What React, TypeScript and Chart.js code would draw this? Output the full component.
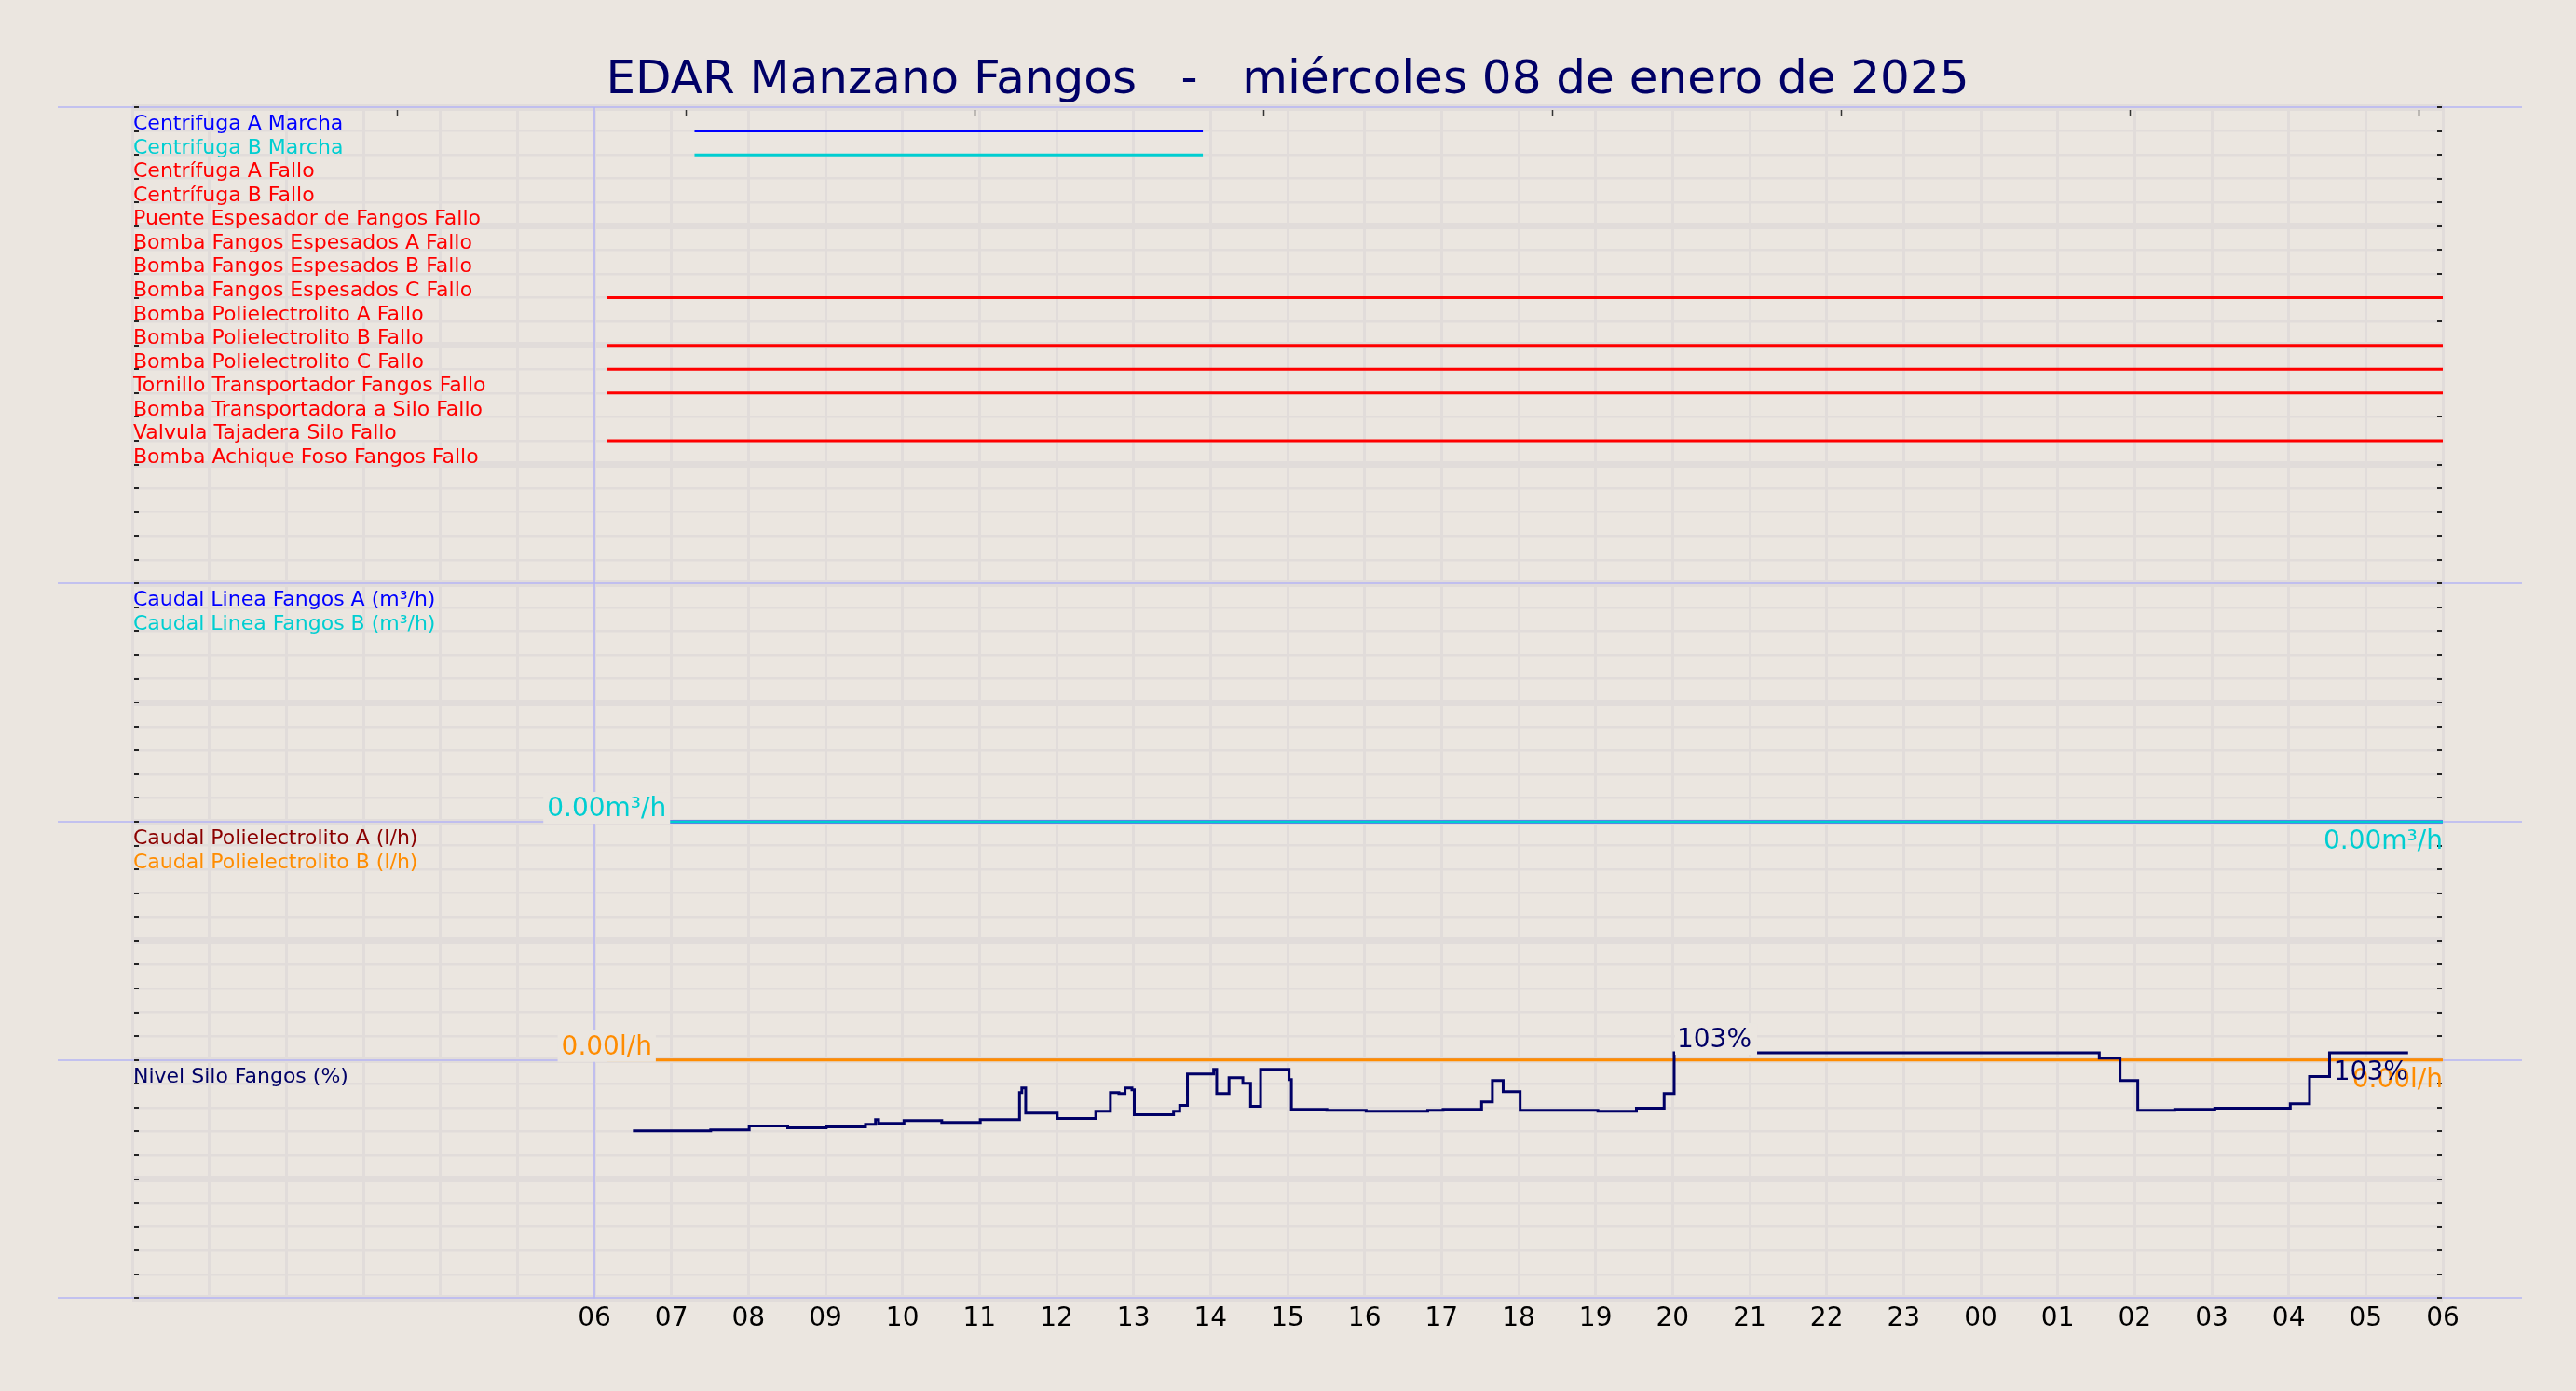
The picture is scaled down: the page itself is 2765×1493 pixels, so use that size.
import React, { useEffect, useRef } from 'react';
import { Chart, registerables } from 'chart.js';

Chart.register(...registerables);

const BG = '#ebe6e0';
const GRID = '#e1dcda';
const LAVENDER = '#b4b4f4';
const NAVY = '#000066';
const FAMILY = 'DejaVu Sans';

const TITLE = 'EDAR Manzano Fangos   -   miércoles 08 de enero de 2025';

// x axis runs in hours from 00:00 of the day to 06:00 of the next one
const hourLabels = ['06', '07', '08', '09', '10', '11', '12', '13', '14', '15', '16', '17', '18',
  '19', '20', '21', '22', '23', '00', '01', '02', '03', '04', '05', '06'];
const dayStartHour = 6;
const topTickHours = [3.44, 7.19, 10.94, 14.69, 18.44, 22.19, 25.94, 29.69];

// digital signals (one row each)
const signalNames = [
  'Centrifuga A Marcha',
  'Centrifuga B Marcha',
  'Centrífuga A Fallo',
  'Centrífuga B Fallo',
  'Puente Espesador de Fangos Fallo',
  'Bomba Fangos Espesados A Fallo',
  'Bomba Fangos Espesados B Fallo',
  'Bomba Fangos Espesados C Fallo',
  'Bomba Polielectrolito A Fallo',
  'Bomba Polielectrolito B Fallo',
  'Bomba Polielectrolito C Fallo',
  'Tornillo Transportador Fangos Fallo',
  'Bomba Transportadora a Silo Fallo',
  'Valvula Tajadera Silo Fallo',
  'Bomba Achique Foso Fangos Fallo',
];
const signalColors = ['#0000ff', '#00ced1', '#ff0000', '#ff0000', '#ff0000', '#ff0000', '#ff0000',
  '#ff0000', '#ff0000', '#ff0000', '#ff0000', '#ff0000', '#ff0000', '#ff0000', '#ff0000'];
const signalStart = [7.3, 7.3, null, null, null, null, null, 6.16, null, 6.16, 6.16, 6.16, null, 6.16, null];
const signalEnd = [13.9, 13.9, null, null, null, null, null, 30, null, 30, 30, 30, null, 30, null];

// caudal linea fangos
const caudalNames = ['Caudal Linea Fangos A (m³/h)', 'Caudal Linea Fangos B (m³/h)'];
const caudalColors = ['#0000ff', '#00ced1'];
const caudalHours = [6.16, 30];
const caudalA = [0, 0];
const caudalB = [0, 0];

// caudal polielectrolito
const poliNames = ['Caudal Polielectrolito A (l/h)', 'Caudal Polielectrolito B (l/h)'];
const poliColors = ['#8b0000', '#ff8c00'];
const poliHours = [6.16, 30];
const poliA = [0, 0];
const poliB = [0, 0];

// nivel silo
const siloNames = ['Nivel Silo Fangos (%)'];
const siloColors = [NAVY];
const siloHours = [6.5, 7.51, 8.01, 8.51, 9.01, 9.52, 9.65, 9.69, 10.02, 10.51, 11.01, 11.52, 11.55,
  11.6, 12.01, 12.51, 12.7, 12.81, 12.89, 12.98, 13.01, 13.52, 13.6, 13.7, 14.04, 14.08, 14.24,
  14.42, 14.52, 14.65, 15.02, 15.05, 15.51, 16.02, 16.82, 17.02, 17.52, 17.66, 17.8, 18.02, 19.03,
  19.53, 19.89, 20.02, 25.54, 25.81, 26.04, 26.52, 27.04, 28.02, 28.27, 28.53, 29.55];
const siloLevel = [70.3, 70.7, 72.3, 71.5, 71.9, 73.0, 75.0, 73.4, 74.6, 73.8, 75.0, 86.3, 88.3,
  77.7, 75.4, 78.5, 86.3, 85.9, 88.3, 87.5, 77.0, 78.5, 80.9, 94.1, 96.1, 85.9, 92.6,
  90.2, 80.5, 96.1, 91.8, 79.3, 78.9, 78.5, 78.9, 79.3, 82.4, 91.4, 86.7, 78.9, 78.5,
  79.7, 85.9, 103, 100.8, 91.4, 78.9, 79.3, 79.7, 81.6, 93.0, 103, 103];

const panels = [
  { id: 'ySig', names: signalNames, colors: signalColors, rowStep: 1, reverse: true },
  { id: 'yCaudal', names: caudalNames, colors: caudalColors, rowStep: 1, reverse: false },
  { id: 'yPoli', names: poliNames, colors: poliColors, rowStep: 1, reverse: false },
  { id: 'ySilo', names: siloNames, colors: siloColors, rowStep: 10, reverse: false },
];

const valueLabelSets = [
  { id: 'yCaudal', hours: caudalHours, values: caudalB, unit: 'm³/h', digits: 2, color: caudalColors[1], maxAlign: 'center' },
  { id: 'yPoli', hours: poliHours, values: poliB, unit: 'l/h', digits: 2, color: poliColors[1], maxAlign: 'center' },
  { id: 'ySilo', hours: siloHours, values: siloLevel, unit: '%', digits: 0, color: NAVY, maxAlign: 'left' },
];

const toPoints = (hours: number[], values: number[]) => hours.map((h, k) => ({ x: h, y: values[k] }));

const decoPlugin = {
  id: 'deco',
  beforeDatasetsDraw(chart: any) {
    const { ctx, chartArea, scales } = chart;
    const xs = scales.x;
    ctx.save();
    // panel separators
    const ys: number[] = [];
    panels.forEach((p) => {
      [scales[p.id].top, scales[p.id].bottom].forEach((v: number) => {
        const r = Math.round(v);
        if (!ys.includes(r)) ys.push(r);
      });
    });
    ctx.strokeStyle = LAVENDER;
    ctx.lineWidth = 1.5;
    ys.forEach((y) => {
      ctx.beginPath();
      ctx.moveTo(chartArea.left - 80, y);
      ctx.lineTo(chartArea.right + 85, y);
      ctx.stroke();
    });
    const x6 = Math.round(xs.getPixelForValue(dayStartHour));
    ctx.beginPath();
    ctx.moveTo(x6, chartArea.top);
    ctx.lineTo(x6, chartArea.bottom);
    ctx.stroke();

    // small inward tick marks
    ctx.strokeStyle = '#222';
    ctx.lineWidth = 2;
    panels.forEach((p) => {
      const s = scales[p.id];
      s.ticks.forEach((t: any) => {
        const y = Math.round(s.getPixelForValue(t.value));
        ctx.beginPath();
        ctx.moveTo(chartArea.left + 2, y);
        ctx.lineTo(chartArea.left + 7, y);
        ctx.moveTo(chartArea.right - 6, y);
        ctx.lineTo(chartArea.right - 1, y);
        ctx.stroke();
      });
    });
    ctx.lineWidth = 1.5;
    ctx.strokeStyle = '#333';
    topTickHours.forEach((h) => {
      const x = Math.round(xs.getPixelForValue(h)) + 0.5;
      ctx.beginPath();
      ctx.moveTo(x, chartArea.top + 3);
      ctx.lineTo(x, chartArea.top + 10);
      ctx.stroke();
    });
    ctx.restore();
  },
  afterDatasetsDraw(chart: any) {
    const { ctx, chartArea, scales } = chart;
    const xs = scales.x;
    ctx.save();
    // series names
    ctx.font = `22px "${FAMILY}"`;
    ctx.textAlign = 'left';
    ctx.textBaseline = 'alphabetic';
    panels.forEach((p) => {
      const s = scales[p.id];
      p.names.forEach((name, k) => {
        const v = p.reverse ? (k + 1) * p.rowStep : s.max - (k + 1) * p.rowStep;
        const y = s.getPixelForValue(v);
        ctx.fillStyle = p.colors[k];
        ctx.fillText(name, chartArea.left + 1, y - 1.5);
      });
    });

    // value labels
    ctx.font = `28px "${FAMILY}"`;
    valueLabelSets.forEach((set) => {
      const s = scales[set.id];
      let iMax = 0;
      set.values.forEach((v, k) => { if (v > set.values[iMax]) iMax = k; });
      const fmt = (v: number) => `${v.toFixed(set.digits)}${set.unit}`;

      const tMax = fmt(set.values[iMax]);
      const wMax = ctx.measureText(tMax).width;
      const xm = xs.getPixelForValue(set.hours[iMax]);
      const ym = s.getPixelForValue(set.values[iMax]);
      const base = ym - 6;
      let tx = xm - wMax / 2;
      let bx0 = tx - 4;
      if (set.maxAlign === 'left') {
        tx = xm + 3;
        bx0 = xm + 1;
      }
      ctx.fillStyle = BG;
      ctx.fillRect(bx0, base - 26, wMax + 8, 34);
      ctx.fillStyle = set.color;
      ctx.textAlign = 'left';
      ctx.fillText(tMax, tx, base);

      const last = set.values.length - 1;
      const xl = xs.getPixelForValue(set.hours[last]);
      const yl = s.getPixelForValue(set.values[last]);
      ctx.textAlign = 'right';
      ctx.fillText(fmt(set.values[last]), xl, yl + 29);
    });
    ctx.restore();
  },
};

const App: React.FC = () => {
  const chartRef = useRef<HTMLCanvasElement>(null);
  const chartInstance = useRef<Chart | null>(null);

  useEffect(() => {
    if (!chartRef.current) return;
    if (chartInstance.current) chartInstance.current.destroy();

    const datasets: any[] = [];
    signalNames.forEach((name, i) => {
      const s = signalStart[i];
      const e = signalEnd[i];
      if (s === null || e === null) return;
      datasets.push({
        label: name,
        data: [{ x: s, y: i + 1 }, { x: e, y: i + 1 }],
        yAxisID: 'ySig',
        borderColor: signalColors[i],
        borderWidth: 3,
      });
    });
    // Chart.js paints the first dataset on top, so B goes before A
    datasets.push(
      { label: siloNames[0], data: toPoints(siloHours, siloLevel), yAxisID: 'ySilo', borderColor: NAVY, borderWidth: 3, stepped: true },
      { label: caudalNames[1], data: toPoints(caudalHours, caudalB), yAxisID: 'yCaudal', borderColor: caudalColors[1], borderWidth: 2.5, stepped: true },
      { label: caudalNames[0], data: toPoints(caudalHours, caudalA), yAxisID: 'yCaudal', borderColor: caudalColors[0], borderWidth: 3, stepped: true },
      { label: poliNames[1], data: toPoints(poliHours, poliB), yAxisID: 'yPoli', borderColor: poliColors[1], borderWidth: 3, stepped: true },
      { label: poliNames[0], data: toPoints(poliHours, poliA), yAxisID: 'yPoli', borderColor: poliColors[0], borderWidth: 2, stepped: true },
    );
    datasets.forEach((d) => { d.pointRadius = 0; d.clip = false; d.fill = false; });

    const gridFor = (thickEvery: number) => ({
      color: GRID,
      lineWidth: (c: any) => (c.tick && c.tick.value % thickEvery === 0 ? 7 : 2.5),
      drawTicks: false,
    });
    const yBase = (weight: number, stackWeight: number, min: number, max: number, step: number, thick: number, reverse: boolean) => ({
      type: 'linear',
      position: 'left',
      stack: 'panels',
      stackWeight,
      weight,
      min,
      max,
      reverse,
      ticks: { display: false, stepSize: step },
      grid: gridFor(thick),
      border: { display: false },
    });

    chartInstance.current = new Chart(chartRef.current, {
      type: 'line',
      data: { datasets },
      plugins: [decoPlugin],
      options: {
        responsive: true,
        maintainAspectRatio: false,
        animation: false,
        layout: { padding: { left: 142, right: 143, top: 0, bottom: 54 } },
        font: { family: FAMILY },
        scales: {
          x: {
            type: 'linear',
            position: 'bottom',
            min: 0,
            max: 30,
            ticks: {
              stepSize: 1,
              autoSkip: false,
              maxRotation: 0,
              padding: 6,
              color: '#000',
              font: { family: FAMILY, size: 28 },
              callback: (v: any) => (v >= dayStartHour ? hourLabels[v - dayStartHour] : ''),
            },
            grid: { color: GRID, lineWidth: 3, drawTicks: false },
            border: { display: false },
          },
          ySilo: yBase(1, 1, 0, 100, 10, 50, false),
          yPoli: yBase(2, 1, 0, 10, 1, 5, false),
          yCaudal: yBase(3, 1, 0, 10, 1, 5, false),
          ySig: yBase(4, 2, 0, 20, 1, 5, true),
        } as any,
        plugins: {
          legend: { display: false },
          tooltip: { enabled: false },
          title: {
            display: true,
            text: TITLE,
            color: NAVY,
            font: { family: FAMILY, size: 50, weight: 'normal', lineHeight: 1 },
            padding: { top: 62, bottom: 3 },
          },
        },
      } as any,
    });

    return () => {
      if (chartInstance.current) {
        chartInstance.current.destroy();
        chartInstance.current = null;
      }
    };
  }, []);

  return (
    <div style={{ position: 'fixed', left: 0, top: 0, width: '100vw', height: '100vh', background: BG }}>
      <canvas ref={chartRef}></canvas>
    </div>
  );
};

export default App;
